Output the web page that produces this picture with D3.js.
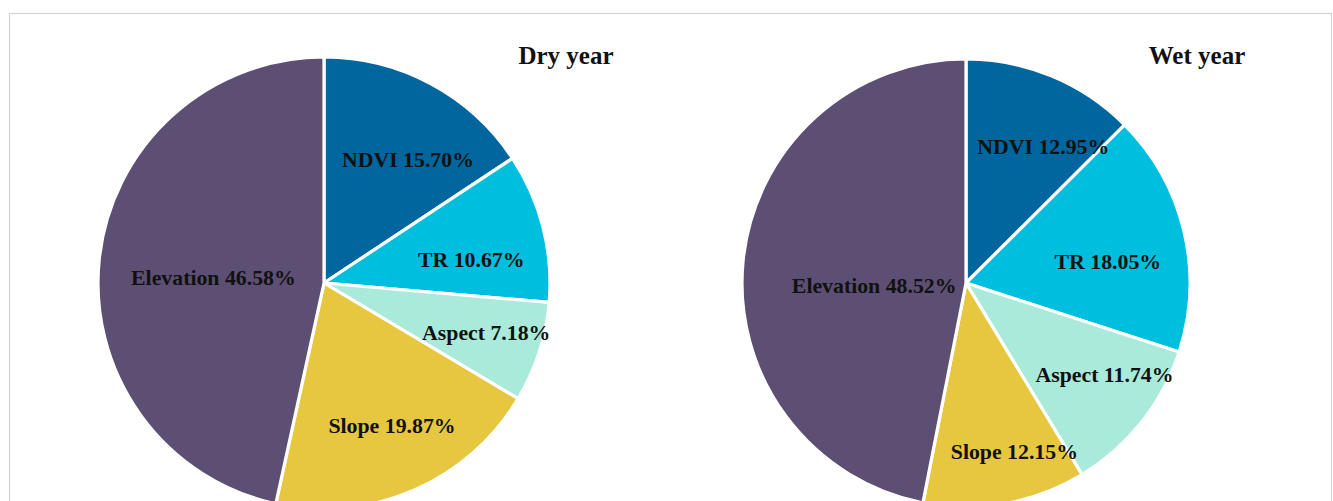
<!DOCTYPE html>
<html>
<head>
<meta charset="utf-8">
<script src="https://cdn.jsdelivr.net/npm/d3@7"></script>
<style>
  html, body { margin: 0; padding: 0; background: #ffffff; overflow: hidden; }
  svg { display: block; }
</style>
</head>
<body>
<svg id="chart" width="1333" height="501"></svg>
<script>
// Factor contributions (%), listed clockwise from 12 o'clock
const factors = ["NDVI", "TR", "Aspect", "Slope", "Elevation"];
const dryValues = [15.70, 10.67, 7.18, 19.87, 46.58];
const wetValues = [12.95, 18.05, 11.74, 12.15, 48.52];
const panelTitles = ["Dry year", "Wet year"];

// Slice colours per factor
const palette = {
  NDVI: "#00669d",
  TR: "#00bedd",
  Aspect: "#a9eadb",
  Slope: "#e8c740",
  Elevation: "#5c4f73"
};

// Label placement: fraction of radius and angular nudge (degrees) per factor, per panel
const labelLayout = [
  { NDVI: [0.66, 6], TR: [0.66, 5], Aspect: [0.75, -1], Slope: [0.70, -2], Elevation: [0.49, -3] },
  { NDVI: [0.70, 7], TR: [0.64, 5], Aspect: [0.74, -5], Slope: [0.78, -6], Elevation: [0.41, -7] }
];

const panels = [
  { title: panelTitles[0], values: dryValues, cx: 324, cy: 283, r: 226, titleX: 566 },
  { title: panelTitles[1], values: wetValues, cx: 966, cy: 283, r: 224, titleX: 1197 }
];

const svg = d3.select("#chart");

// Figure frame
svg.append("rect")
  .attr("x", 9.5).attr("y", 13.5)
  .attr("width", 1322).attr("height", 520)
  .attr("fill", "none")
  .attr("stroke", "#d3d3d3")
  .attr("stroke-width", 1.2);

const pie = d3.pie().sort(null).value(d => d.value);

panels.forEach((p, i) => {
  const data = factors.map((f, k) => ({ name: f, value: p.values[k] }));
  const arcs = pie(data);
  const arc = d3.arc().innerRadius(0).outerRadius(p.r);

  const g = svg.append("g").attr("transform", `translate(${p.cx},${p.cy})`);

  g.selectAll("path.slice")
    .data(arcs)
    .join("path")
    .attr("class", "slice")
    .attr("d", arc)
    .attr("fill", d => palette[d.data.name])
    .attr("stroke", "#ffffff")
    .attr("stroke-width", 3.2)
    .attr("stroke-linejoin", "round");

  g.selectAll("text.lbl")
    .data(arcs)
    .join("text")
    .attr("class", "lbl")
    .attr("transform", d => {
      const [frac, nudge] = labelLayout[i][d.data.name];
      const a = (d.startAngle + d.endAngle) / 2 + nudge * Math.PI / 180;
      const rr = frac * p.r;
      return `translate(${rr * Math.sin(a)},${-rr * Math.cos(a)})`;
    })
    .attr("text-anchor", "middle")
    .attr("dy", "0.35em")
    .attr("font-family", "'Liberation Serif', 'Times New Roman', serif")
    .attr("font-weight", "bold")
    .attr("font-size", 21.8)
    .attr("fill", "#111111")
    .text(d => `${d.data.name} ${d.data.value.toFixed(2)}%`);

  svg.append("text")
    .attr("x", p.titleX).attr("y", 64)
    .attr("text-anchor", "middle")
    .attr("font-family", "'Liberation Serif', 'Times New Roman', serif")
    .attr("font-weight", "bold")
    .attr("font-size", 25)
    .attr("fill", "#111111")
    .text(p.title);
});
</script>
</body>
</html>
